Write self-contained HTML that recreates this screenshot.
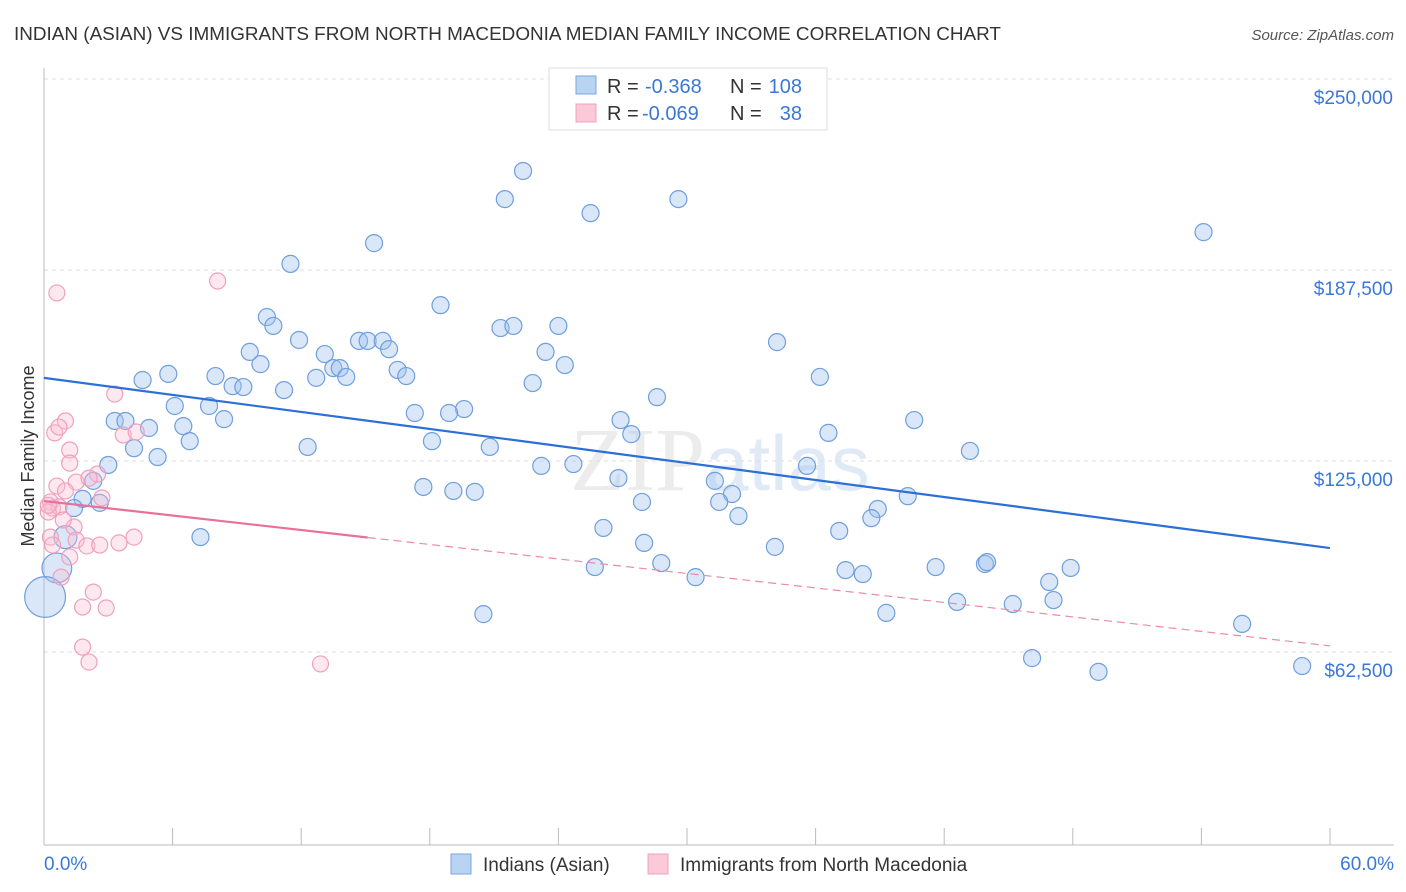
<!DOCTYPE html>
<html><head><meta charset="utf-8">
<style>
body{margin:0;background:#fff;font-family:"Liberation Sans",sans-serif;}
svg{display:block}
</style></head>
<body>
<svg id="chart" width="1406" height="892" viewBox="0 0 1406 892">
<text x="14" y="40" font-size="18.9" fill="#333">INDIAN (ASIAN) VS IMMIGRANTS FROM NORTH MACEDONIA MEDIAN FAMILY INCOME CORRELATION CHART</text>
<text x="1394" y="40" font-size="15" fill="#555" text-anchor="end" font-style="italic">Source: ZipAtlas.com</text>
<text x="720" y="490" font-size="90" fill="#ececec" text-anchor="middle" font-family="Liberation Serif, serif">ZIP<tspan fill="#e0eaf6" font-family="Liberation Sans, sans-serif" font-size="78">atlas</tspan></text>
<g id="grid"></g>
<g id="axes"></g>
<g id="pts"></g>
<g id="trend"></g>
<text transform="translate(34,456) rotate(-90)" font-size="18" fill="#333" text-anchor="middle">Median Family Income</text>
<g>
<rect x="549" y="68" width="278" height="62" fill="#fff" stroke="#ddd"/>
<rect x="576" y="76" width="20" height="18" fill="#b9d3f3" stroke="#7aa6e0"/>
<rect x="576" y="104" width="20" height="18" fill="#fbc9d8" stroke="#f0a0bc"/>
<text x="607" y="93" font-size="20" fill="#333">R =</text>
<text x="645" y="93" font-size="20" fill="#3a78d8">-0.368</text>
<text x="730" y="93" font-size="20" fill="#333">N =</text>
<text x="802" y="93" font-size="20" fill="#3a78d8" text-anchor="end">108</text>
<text x="607" y="120" font-size="20" fill="#333">R =</text>
<text x="642" y="120" font-size="20" fill="#3a78d8">-0.069</text>
<text x="730" y="120" font-size="20" fill="#333">N =</text>
<text x="802" y="120" font-size="20" fill="#3a78d8" text-anchor="end">38</text>
</g>
<g>
<rect x="451" y="854" width="20" height="20" fill="#b9d3f3" stroke="#7aa6e0"/>
<text x="483" y="871" font-size="19" fill="#333">Indians (Asian)</text>
<rect x="648" y="854" width="20" height="20" fill="#fbc9d8" stroke="#f0a0bc"/>
<text x="680" y="871" font-size="19" fill="#333">Immigrants from North Macedonia</text>
</g>
</svg>
<script>
const yTicks=[62500,125000,187500,250000];
const yTickLabels=["$62,500","$125,000","$187,500","$250,000"];
const xEndLabels=["0.0%","60.0%"];
const blueX=[22.35,21.5,29.6,25.5,54.1,15.4,11.5,18.5,10.4,10.7,21.3,21.9,24.0,11.9,14.7,15.1,15.8,34.2,16.1,9.6,13.1,23.4,10.1,13.5,13.8,24.3,16.5,5.8,4.6,8.0,12.7,14.1,16.9,22.8,36.2,8.8,9.3,11.2,28.6,6.1,7.7,17.3,19.6,18.9,8.4,3.3,3.8,26.9,40.6,4.9,6.5,27.4,36.6,6.8,4.2,18.1,12.3,20.8,43.2,5.3,3.0,23.2,24.7,35.6,26.8,31.3,17.7,19.1,20.1,2.3,32.1,1.8,2.6,1.4,27.9,31.5,40.3,38.9,32.4,38.6,26.1,37.1,1.0,7.3,28.0,34.1,0.6,0.05,25.7,28.8,30.4,37.4,38.2,41.6,43.9,44.0,47.9,46.9,42.6,45.2,47.1,39.3,20.5,55.9,46.1,49.2,58.7];
const blueY=[219.9,210.7,210.7,206.1,199.9,196.3,189.5,176.0,172.1,169.2,168.5,169.2,169.2,164.6,164.3,164.3,164.3,163.9,161.6,160.7,160.0,160.7,156.7,155.4,155.4,156.4,154.8,153.5,151.5,152.8,152.2,152.5,152.8,150.5,152.5,149.5,149.2,148.2,145.9,143.0,143.0,140.7,142.0,140.7,138.7,138.1,138.1,138.4,138.4,135.8,136.4,133.8,134.2,131.5,129.2,131.5,129.6,129.6,128.3,126.3,123.7,123.4,124.0,123.4,119.4,118.5,116.5,115.2,114.9,118.5,114.2,112.6,111.3,109.6,111.6,111.6,113.5,109.3,107.0,106.3,103.1,102.1,100.1,100.1,98.2,96.9,90.0,80.5,90.3,91.6,87.0,89.3,88.0,90.3,91.3,91.9,90.0,85.4,78.9,78.2,79.5,75.3,74.9,71.7,60.5,56.0,57.9];
const bluePop={82:1.35,86:1.75,87:2.4};
const pinkX=[0.6,8.1,3.3,1.0,0.5,0.7,3.7,4.3,1.2,1.2,2.5,1.5,2.1,0.6,1.0,0.3,0.4,0.7,0.2,1.4,0.9,2.7,0.3,1.5,4.2,3.5,2.0,1.2,0.8,2.3,1.8,2.9,1.8,2.1,12.9,0.4,2.6,0.2];
const pinkY=[180.0,183.9,146.9,138.1,134.2,136.1,133.5,134.5,128.6,124.3,120.7,118.1,119.4,116.8,115.2,111.6,109.6,110.0,108.3,103.4,105.7,112.9,100.1,99.1,100.1,98.2,97.2,93.6,87.0,82.1,77.2,76.9,64.1,59.2,58.6,97.5,97.5,110.5];
const blueTrend=[152.2,96.5];
const pinkTrend=[111.9,64.5];
const pinkSolidEnd=15.1;

const NS="http://www.w3.org/2000/svg";
const X0=44,X1=1330,Y62=652,Y250=79;
const xs=v=>X0+(v/60)*(X1-X0);
const ys=k=>Y62-(k*1000-62500)/(250000-62500)*(Y62-Y250);
function mk(tag,attrs,parent){const e=document.createElementNS(NS,tag);for(const k in attrs)e.setAttribute(k,attrs[k]);parent.appendChild(e);return e;}
const grid=document.getElementById('grid'),axes=document.getElementById('axes'),pts=document.getElementById('pts'),tr=document.getElementById('trend');
yTicks.forEach((t,i)=>{
  const y=ys(t/1000);
  const l=mk('line',{x1:X0,x2:1394,y1:y,y2:y,stroke:'#ddd','stroke-dasharray':'4,4'},grid);
  
  
  const tx=mk('text',{x:1393,y:y+25,'font-size':19,fill:'#3a78d8','text-anchor':'end'},axes);
  tx.textContent=yTickLabels[i];
  
  
});
let a=mk('line',{x1:X0,x2:X0,y1:68,y2:845,stroke:'#bbb'},axes);


a=mk('line',{x1:X0,x2:1394,y1:845,y2:845,stroke:'#bbb'},axes);


for(let i=0;i<=10;i++){
  const x=xs(i*6);
  const t=mk('line',{x1:x,x2:x,y1:828,y2:845,stroke:'#bbb'},axes);
  
  
}
let t0=mk('text',{x:44,y:870,'font-size':19,fill:'#3a78d8'},axes);t0.textContent=xEndLabels[0];


let t1=mk('text',{x:1394,y:870,'font-size':19,fill:'#3a78d8','text-anchor':'end'},axes);t1.textContent=xEndLabels[1];


blueX.forEach((v,i)=>{
  const c=mk('circle',{cx:xs(v),cy:ys(blueY[i]),r:8.5*(bluePop[i]||1),fill:'rgba(160,196,240,0.4)',stroke:'#6f9fdc','stroke-width':1.2},pts);
  
  
});
pinkX.forEach((v,i)=>{
  const c=mk('circle',{cx:xs(v),cy:ys(pinkY[i]),r:8,fill:'rgba(248,190,210,0.35)',stroke:'#f0a0bc','stroke-width':1.2},pts);
  
  
});
let l=mk('line',{x1:xs(0),y1:ys(blueTrend[0]),x2:xs(60),y2:ys(blueTrend[1]),stroke:'#2c6fd6','stroke-width':2.2},tr);


const py=x=>pinkTrend[0]+(pinkTrend[1]-pinkTrend[0])*x/60;
l=mk('line',{x1:xs(0),y1:ys(py(0)),x2:xs(pinkSolidEnd),y2:ys(py(pinkSolidEnd)),stroke:'#e8709a','stroke-width':2.2},tr);


l=mk('line',{x1:xs(pinkSolidEnd),y1:ys(py(pinkSolidEnd)),x2:xs(60),y2:ys(py(60)),stroke:'#eb8aac','stroke-width':1.2,'stroke-dasharray':'8,5'},tr);


</script>
</body></html>
